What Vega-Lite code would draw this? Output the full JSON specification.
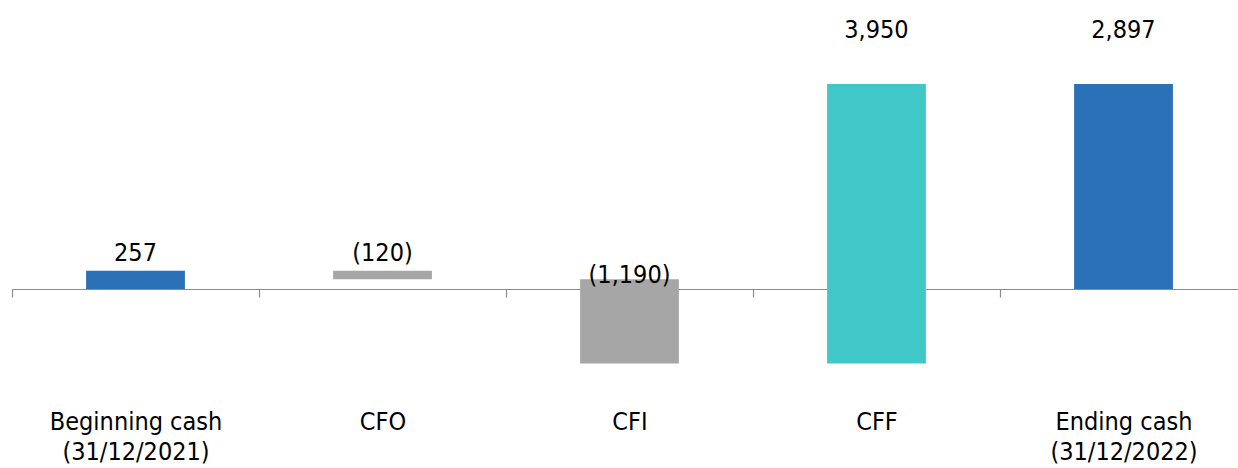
{
  "$schema": "https://vega.github.io/schema/vega-lite/v6.json",
  "width": 1226,
  "height": 289,
  "autosize": {"type": "none"},
  "padding": {"left": 12, "top": 0, "right": 0, "bottom": 179},
  "background": "white",
  "config": {"view": {"stroke": null}, "font": "DejaVu Sans Condensed"},
  "data": {
    "values": [
      {"cat": "Beginning cash|(31/12/2021)", "low": 0, "high": 257, "label": "257", "kind": "cash"},
      {"cat": "CFO", "low": 137, "high": 257, "label": "(120)", "kind": "neg"},
      {"cat": "CFI", "low": -1053, "high": 137, "label": "(1,190)", "kind": "neg"},
      {"cat": "CFF", "low": -1053, "high": 2897, "label": "3,950", "kind": "pos"},
      {"cat": "Ending cash|(31/12/2022)", "low": 0, "high": 2897, "label": "2,897", "kind": "cash"}
    ]
  },
  "encoding": {
    "x": {
      "field": "cat",
      "type": "nominal",
      "sort": null,
      "scale": {"range": [0, 1235], "paddingInner": 0, "paddingOuter": 0},
      "axis": {
        "title": null,
        "labelExpr": "isValid(datum.value) ? split(datum.value, '|') : ''",
        "labelAngle": 0,
        "domainColor": "#8C8C8C",
        "domainWidth": 1.2,
        "tickColor": "#8C8C8C",
        "tickWidth": 1.2,
        "tickSize": 8,
        "tickBand": "extent",
        "labelPadding": 112,
        "labelFontSize": 25,
        "labelColor": "#000000",
        "labelLineHeight": 30,
        "labelFont": "DejaVu Sans Condensed",
        "labelBaseline": "top",
        "labelLimit": 500
      }
    }
  },
  "layer": [
    {
      "mark": {"type": "bar", "width": {"band": 0.4}},
      "encoding": {
        "y": {"field": "low", "type": "quantitative", "scale": {"domain": [0, 4082], "nice": false, "zero": false}, "axis": null},
        "y2": {"field": "high"},
        "color": {
          "field": "kind",
          "type": "nominal",
          "scale": {"domain": ["cash", "neg", "pos"], "range": ["#2A71B8", "#A6A6A6", "#40C8C8"]},
          "legend": null
        }
      }
    },
    {
      "transform": [{"filter": "datum.cat == 'CFO' || indexof(datum.cat, 'Beginning') == 0"}],
      "mark": {"type": "text", "dy": -10, "baseline": "alphabetic", "align": "center", "fontSize": 25, "font": "DejaVu Sans Condensed", "color": "#000000"},
      "encoding": {
        "y": {"field": "high", "type": "quantitative", "scale": {"domain": [0, 4082], "nice": false, "zero": false}, "axis": null},
        "text": {"field": "label"}
      }
    },
    {
      "transform": [{"filter": "datum.cat == 'CFI'"}],
      "mark": {"type": "text", "dy": 4, "baseline": "alphabetic", "align": "center", "fontSize": 25, "font": "DejaVu Sans Condensed", "color": "#000000"},
      "encoding": {
        "y": {"field": "high", "type": "quantitative", "scale": {"domain": [0, 4082], "nice": false, "zero": false}, "axis": null},
        "text": {"field": "label"}
      }
    },
    {
      "transform": [{"filter": "datum.cat == 'CFF' || indexof(datum.cat, 'Ending') == 0"}],
      "mark": {"type": "text", "dy": -46, "baseline": "alphabetic", "align": "center", "fontSize": 25, "font": "DejaVu Sans Condensed", "color": "#000000"},
      "encoding": {
        "y": {"field": "high", "type": "quantitative", "scale": {"domain": [0, 4082], "nice": false, "zero": false}, "axis": null},
        "text": {"field": "label"}
      }
    }
  ]
}
